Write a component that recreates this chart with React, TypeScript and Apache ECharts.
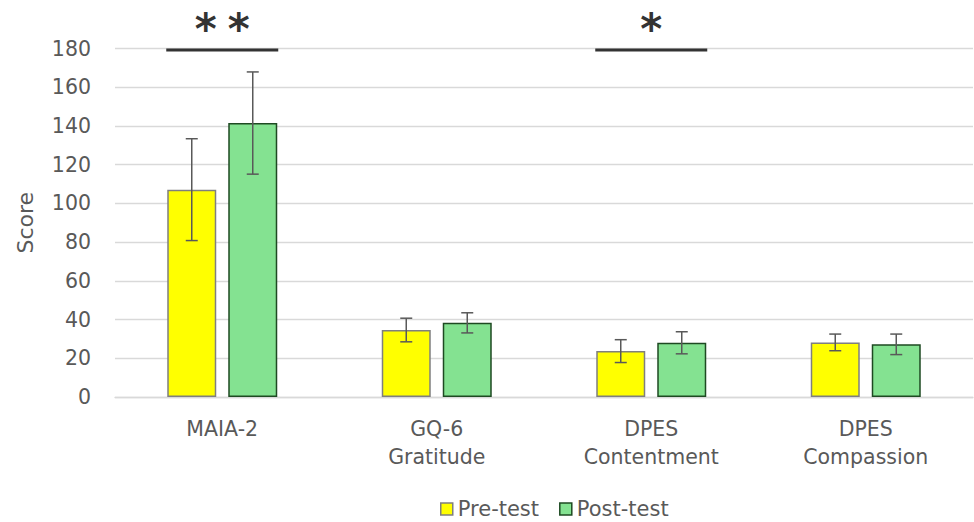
import React, { useEffect, useRef } from "react";
import * as echarts from "echarts";

const categories = ["MAIA-2", "GQ-6\nGratitude", "DPES\nContentment", "DPES\nCompassion"];
const preMeans = [107.1, 34.6, 23.7, 28.2];
const preSD = [26.3, 6.1, 5.9, 4.3];
const postMeans = [141.5, 38.3, 28.0, 27.2];
const postSD = [26.4, 5.2, 5.7, 5.3];
const significance = [
  { index: 0, level: 180, label: "**" },
  { index: 2, level: 180, label: "*" },
];
const yTicks = { min: 0, max: 180, interval: 20 };

const FONT = "DejaVu Sans";
const TEXT = "#595959";
const BAR_W = 49;
const BAR_GAP = 12;

export default function App() {
  const ref = useRef<HTMLDivElement>(null);
  useEffect(() => {
    if (!ref.current) return;
    const chart = echarts.init(ref.current, null, { renderer: "svg" });
    const half = (BAR_W + BAR_GAP) / 2;

    const errData = (means: number[], sds: number[]) =>
      means.map((m, i) => [i, m - sds[i], m + sds[i]]);

    const errRender = (offset: number) => (params: any, api: any) => {
      const idx = api.value(0);
      const lo = api.coord([idx, api.value(1)]);
      const hi = api.coord([idx, api.value(2)]);
      const x = lo[0] + offset;
      const cap = 6;
      const style = { stroke: "#595959", lineWidth: 1.5 };
      return {
        type: "group",
        children: [
          { type: "line", shape: { x1: x, y1: lo[1], x2: x, y2: hi[1] }, style },
          { type: "line", shape: { x1: x - cap, y1: lo[1], x2: x + cap, y2: lo[1] }, style },
          { type: "line", shape: { x1: x - cap, y1: hi[1], x2: x + cap, y2: hi[1] }, style },
        ],
      };
    };

    chart.setOption({
      animation: false,
      textStyle: { fontFamily: FONT },
      grid: { left: 115, right: 1, top: 48.5, bottom: 125, containLabel: false },
      legend: {
        left: 440,
        top: 498,
        padding: 0,
        itemWidth: 12,
        itemHeight: 12,
        itemGap: 20,
        icon: "rect",
        textStyle: { fontFamily: FONT, fontSize: 21, lineHeight: 22, color: TEXT },
        data: [
          { name: "Pre-test", itemStyle: { color: "#FFFF00", borderColor: "#7F7F7F", borderWidth: 1.5 } },
          { name: "Post-test", itemStyle: { color: "#84E291", borderColor: "#1E4A22", borderWidth: 1.5 } },
        ],
      },
      xAxis: {
        type: "category",
        data: categories,
        axisLine: { lineStyle: { color: "#D9D9D9", width: 1.3 } },
        axisTick: { show: false },
        axisLabel: { color: TEXT, fontFamily: FONT, fontSize: 20.5, lineHeight: 28, margin: 18 },
      },
      yAxis: {
        type: "value",
        min: yTicks.min,
        max: yTicks.max,
        interval: yTicks.interval,
        name: "Score",
        nameLocation: "middle",
        nameRotate: 90,
        nameGap: 79,
        nameTextStyle: { color: TEXT, fontFamily: FONT, fontSize: 22 },
        axisLine: { show: false },
        axisTick: { show: false },
        axisLabel: { color: TEXT, fontFamily: FONT, fontSize: 20.5, margin: 24 },
        splitLine: { lineStyle: { color: "#D9D9D9", width: 1.3 } },
      },
      series: [
        {
          name: "Pre-test",
          type: "bar",
          data: preMeans,
          barWidth: BAR_W,
          barGap: `${(BAR_GAP / BAR_W) * 100}%`,
          itemStyle: { color: "#FFFF00", borderColor: "#7F7F7F", borderWidth: 1.5 },
        },
        {
          name: "Post-test",
          type: "bar",
          data: postMeans,
          barWidth: BAR_W,
          barGap: `${(BAR_GAP / BAR_W) * 100}%`,
          itemStyle: { color: "#84E291", borderColor: "#1E4A22", borderWidth: 1.5 },
        },
        {
          name: "Pre SD",
          type: "custom",
          data: errData(preMeans, preSD),
          renderItem: errRender(-half),
          z: 10,
        },
        {
          name: "Post SD",
          type: "custom",
          data: errData(postMeans, postSD),
          renderItem: errRender(half),
          z: 10,
        },
        {
          name: "Significance",
          type: "custom",
          data: significance.map((s) => [s.index, s.level, s.label]),
          z: 10,
          renderItem: (params: any, api: any) => {
            const d = significance[params.dataIndex];
            const p = api.coord([d.index, d.level]);
            const x = p[0];
            const y = p[1] + 1.5;
            const n = d.label.length;
            const spacing = 33;
            const stars = [];
            for (let k = 0; k < n; k++) {
              stars.push({
                type: "text",
                x: x + (k - (n - 1) / 2) * spacing,
                y: y - 42,
                style: {
                  text: "*",
                  fontFamily: FONT,
                  fontWeight: "bold",
                  fontSize: 42,
                  fill: "#333333",
                  align: "center",
                  verticalAlign: "top",
                },
              });
            }
            return {
              type: "group",
              children: [
                {
                  type: "line",
                  shape: { x1: x - 56, y1: y, x2: x + 56, y2: y },
                  style: { stroke: "#333333", lineWidth: 3 },
                },
                ...stars,
              ],
            };
          },
        },
      ],
    });
    return () => chart.dispose();
  }, []);
  return (
    <div
      ref={ref}
      style={{ position: "fixed", left: 0, top: 0, width: 974, height: 522, background: "#fff" }}
    />
  );
}
